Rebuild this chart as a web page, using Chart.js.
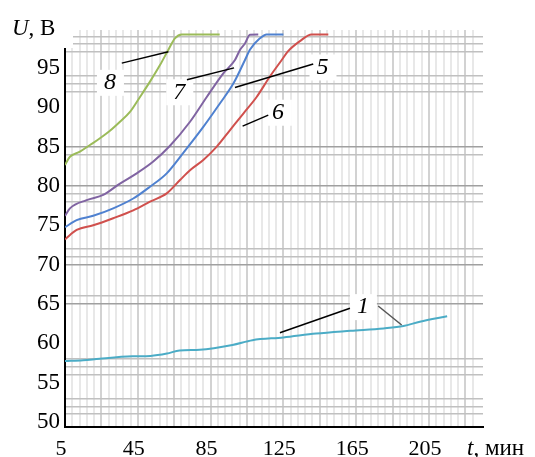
<!DOCTYPE html>
<html>
<head>
<meta charset="utf-8">
<script src="https://cdn.jsdelivr.net/npm/chart.js@4.4.1/dist/chart.umd.min.js"></script>
<style>
  html, body { margin: 0; padding: 0; background: #fff; }
  #wrap { width: 535px; height: 457px; }
</style>
</head>
<body>
<div id="wrap"><canvas id="c" width="535" height="457"></canvas></div>
<script>
// time, min / voltage, V
const t1 = [5, 15, 24, 42, 52, 61, 68, 79, 97, 108, 125, 143, 162, 180, 191, 200, 215];
const u1 = [57.75, 57.85, 58.05, 58.35, 58.4, 58.7, 59.1, 59.2, 59.8, 60.4, 60.75, 61.25, 61.6, 61.9, 62.2, 62.75, 63.45];

const t8 = [5, 7.7, 13.2, 18.7, 24.2, 29.7, 35.2, 40.7, 46.2, 51.7, 57.2, 61.8, 65.4, 69.1, 90];
const u8 = [82.65, 83.7, 84.35, 85.2, 86.05, 87.0, 88.15, 89.4, 91.3, 93.25, 95.35, 97.3, 98.75, 99.25, 99.25];

const t7 = [5, 7.7, 16.9, 26.0, 35.2, 44.4, 53.5, 62.7, 73.7, 82.9, 92.0, 98.4, 101.2, 103.9, 106.6, 111.2];
const u7 = [76.2, 77.15, 78.2, 78.85, 80.3, 81.6, 83.1, 85.1, 88.15, 91.3, 94.3, 96.0, 97.3, 98.1, 99.2, 99.25];

const t5 = [5, 11.4, 20.5, 31.5, 42.5, 51.7, 60.9, 70.0, 81.0, 90.2, 97.5, 103.9, 106.6, 112.1, 115.8, 125];
const u5 = [74.75, 75.65, 76.2, 77.15, 78.4, 79.9, 81.6, 84.2, 87.5, 90.5, 93.0, 96.0, 97.3, 98.75, 99.25, 99.25];

const t6 = [5, 11.4, 20.5, 31.5, 42.5, 51.7, 60.9, 68.2, 73.7, 81.0, 88.4, 95.7, 103.0, 110.3, 117.6, 124.1, 127.5, 134.1, 140.5, 149.7];
const u6 = [73.2, 74.4, 75.0, 75.9, 76.9, 78.0, 79.05, 80.75, 82.0, 83.3, 85.0, 87.1, 89.2, 91.3, 93.9, 96.0, 97.1, 98.4, 99.25, 99.25];

const xLabels = [5, 45, 85, 125, 165, 205];
const yLabels = [50, 55, 60, 65, 70, 75, 80, 85, 90, 95];
const yGrid = [51, 52, 53, 56, 57, 58, 65, 66, 70, 71, 72, 78, 79, 80, 84, 85, 92, 93, 94, 97, 98, 99];
const yGridDark = [65, 70, 80, 85];

// curve callouts: label, text position, leader lines (all in data units)
const callouts = [
  { text: '8', at: [29.7, 93.1], lines: [[36.2, 95.6, 61.8, 97.05]] },
  { text: '7', at: [67.8, 91.9], lines: [[72.0, 93.5, 97.9, 95.0]] },
  { text: '5', at: [146.5, 95.05], lines: [[98.4, 92.5, 141.4, 95.5]] },
  { text: '6', at: [122.0, 89.3], lines: [[102.6, 87.6, 116.7, 89.0]] },
  { text: '1', at: [168.7, 64.6], lines: [[123.1, 61.35, 161.6, 64.45]], grey: [[177.1, 64.74, 190.0, 62.33]] }
];

const xGridTicks = [];
for (let v = 5; v <= 229; v += 4) xGridTicks.push(v);
const yTicks = [...new Set([...yLabels, ...yGrid])].sort((a, b) => a - b);

const pts = (ts, us) => ts.map((t, i) => ({ x: t, y: us[i] }));
const line = (data, color) => ({
  data, borderColor: color, borderWidth: 2, pointRadius: 0,
  fill: false, tension: 0.3, cubicInterpolationMode: 'monotone'
});

const SERIF = '"Liberation Serif", "Times New Roman", serif';

const decor = {
  id: 'decor',
  beforeDatasetsDraw(chart) {
    const { ctx, scales: { x, y } } = chart;
    ctx.save();
    ctx.fillStyle = '#fff';
    callouts.forEach(c => {
      const px = x.getPixelForValue(c.at[0]), py = y.getPixelForValue(c.at[1]);
      ctx.fillRect(px - 13, py - 13, 27, 26);
    });
    ctx.restore();
  },
  afterDatasetsDraw(chart) {
    const { ctx, scales: { x, y } } = chart;
    ctx.save();
    // white box behind the axis title
    ctx.fillStyle = '#fff';
    ctx.fillRect(0, 0, 73, 48);

    ctx.fillStyle = '#000';
    ctx.textBaseline = 'alphabetic';
    ctx.font = 'italic 23px ' + SERIF;
    ctx.fillText('U', 12, 35);
    let w = ctx.measureText('U').width;
    ctx.font = '23px ' + SERIF;
    ctx.fillText(', В', 12 + w, 35);

    ctx.font = 'italic 23px ' + SERIF;
    ctx.fillText('t', 467, 455);
    w = ctx.measureText('t').width;
    ctx.font = '23px ' + SERIF;
    ctx.fillText(', мин', 467 + w, 455);

    ctx.lineWidth = 1.5;
    callouts.forEach(c => {
      ctx.strokeStyle = '#000';
      c.lines.forEach(l => {
        ctx.beginPath();
        ctx.moveTo(x.getPixelForValue(l[0]), y.getPixelForValue(l[1]));
        ctx.lineTo(x.getPixelForValue(l[2]), y.getPixelForValue(l[3]));
        ctx.stroke();
      });
      ctx.strokeStyle = '#555';
      (c.grey || []).forEach(l => {
        ctx.beginPath();
        ctx.moveTo(x.getPixelForValue(l[0]), y.getPixelForValue(l[1]));
        ctx.lineTo(x.getPixelForValue(l[2]), y.getPixelForValue(l[3]));
        ctx.stroke();
      });
      ctx.font = 'italic 24px ' + SERIF;
      ctx.textAlign = 'center';
      ctx.textBaseline = 'middle';
      ctx.fillStyle = '#000';
      ctx.fillText(c.text, x.getPixelForValue(c.at[0]), y.getPixelForValue(c.at[1]));
    });
    ctx.restore();
  }
};

new Chart(document.getElementById('c'), {
  type: 'line',
  data: {
    datasets: [
      line(pts(t1, u1), '#4bacc6'),
      line(pts(t8, u8), '#9bbb59'),
      line(pts(t7, u7), '#8064a2'),
      line(pts(t5, u5), '#4f81d0'),
      line(pts(t6, u6), '#d0504d')
    ]
  },
  options: {
    responsive: false,
    animation: false,
    layout: { padding: { top: 30, right: 52, left: 0, bottom: 0 } },
    plugins: { legend: { display: false }, tooltip: { enabled: false } },
    scales: {
      x: {
        type: 'linear', min: 5, max: 234.7,
        afterBuildTicks: s => { s.ticks = xGridTicks.map(v => ({ value: v })); },
        afterFit: s => { s.height = 30; },
        ticks: {
          autoSkip: false, maxRotation: 0, padding: 9, labelOffset: -4, color: '#000',
          font: { family: SERIF, size: 22 },
          callback: v => xLabels.includes(v) ? String(v) : ''
        },
        grid: {
          drawTicks: false,
          lineWidth: 2,
          color: c => ((c.tick && (c.tick.value - 5) % 20 === 0) ? '#d2d2d2' : '#e8e8e8')
        },
        border: { color: '#000', width: 2 }
      },
      y: {
        type: 'linear', min: 49.37, max: 99.81,
        afterBuildTicks: s => { s.ticks = yTicks.map(v => ({ value: v })); },
        afterFit: s => { s.width = 65; },
        ticks: {
          autoSkip: false, padding: 5, color: '#000',
          font: { family: SERIF, size: 23 },
          callback: v => yLabels.includes(v) ? String(v) : ''
        },
        grid: {
          drawTicks: false,
          lineWidth: 1.5,
          color: c => {
            const v = c.tick && c.tick.value;
            if (!yGrid.includes(v)) return 'rgba(0,0,0,0)';
            return yGridDark.includes(v) ? '#a0a0a0' : '#c0c0c0';
          }
        },
        border: { color: '#000', width: 2 }
      }
    }
  },
  plugins: [decor]
});
</script>
</body>
</html>
